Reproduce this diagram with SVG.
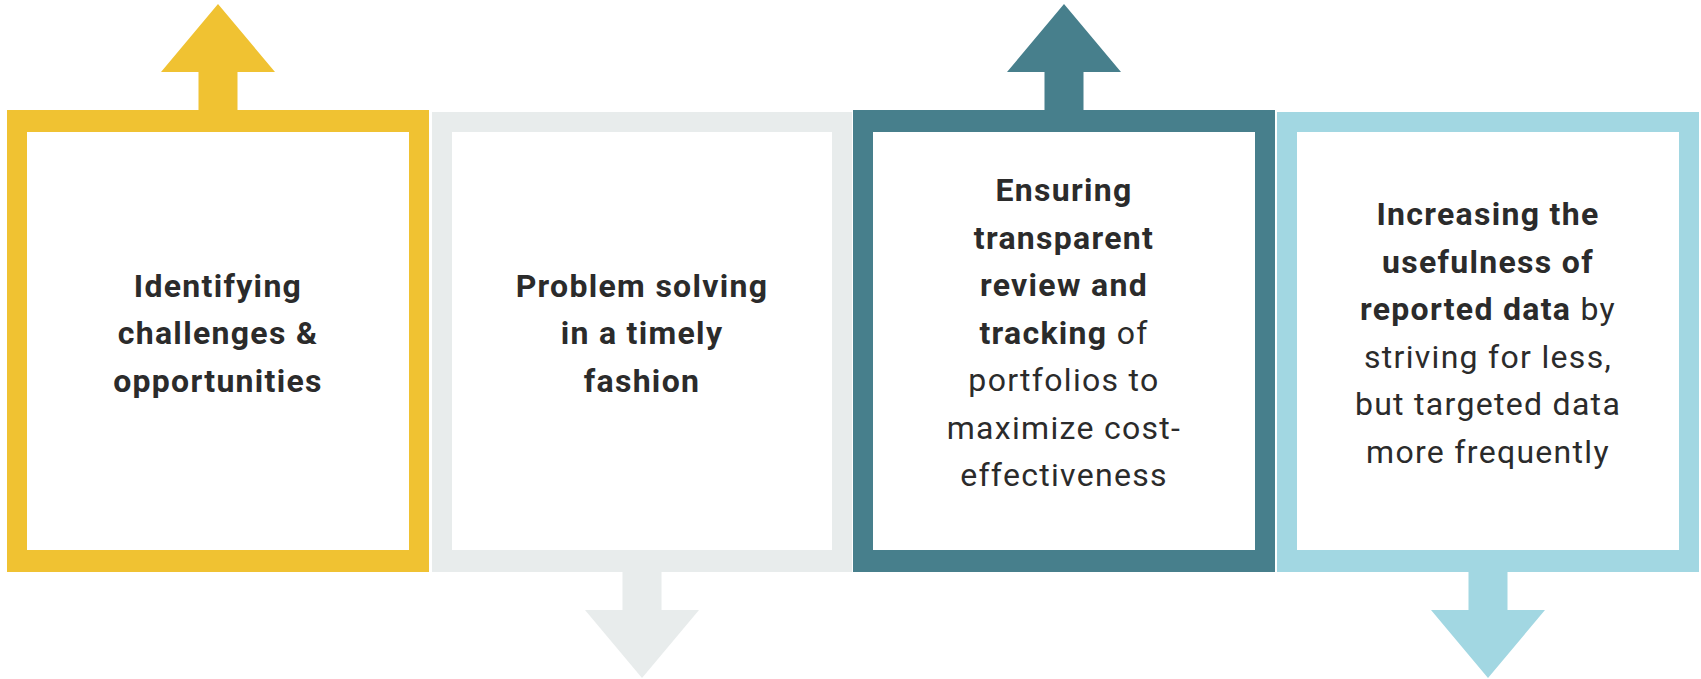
<svg xmlns="http://www.w3.org/2000/svg" width="1701" height="679" viewBox="0 0 1701 679">
<style>
.t{font-family:Roboto,"Liberation Sans",sans-serif;font-size:32px;letter-spacing:1.3px;fill:#2b2b2b;text-anchor:middle}
.b{font-weight:700}
.r{font-weight:400}
.in{fill:#ffffff}
.y{fill:#F0C232}
.g{fill:#E8ECEC}
.tl{fill:#477F8C}
.lb{fill:#A2D7E2}
</style>
<rect width="1701" height="679" fill="#ffffff"/>
<g id="connectors">
<polygon class="y" points="198.5,112 198.5,72 161,72 218,4 275,72 237.5,72 237.5,112"/>
<polygon class="tl" points="1044.5,112 1044.5,72 1007,72 1064,4 1121,72 1083.5,72 1083.5,112"/>
<polygon class="g" points="622.5,570 622.5,610 585,610 642,678 699,610 661.5,610 661.5,570"/>
<polygon class="lb" points="1468.5,570 1468.5,610 1431,610 1488,678 1545,610 1507.5,610 1507.5,570"/>
</g>
<g id="node1">
<rect class="y" x="7" y="110" width="422" height="462"/>
<rect class="in" x="27" y="132" width="382" height="418"/>
<text class="t b" x="218"><tspan x="218" y="296.5">Identifying</tspan><tspan x="218" y="344">challenges &amp;</tspan><tspan x="218" y="391.5">opportunities</tspan></text>
</g>
<g id="node2">
<rect class="g" x="432" y="112" width="420" height="460"/>
<rect class="in" x="452" y="132" width="380" height="418"/>
<text class="t b" x="642"><tspan x="642" y="296.5">Problem solving</tspan><tspan x="642" y="344">in a timely</tspan><tspan x="642" y="391.5">fashion</tspan></text>
</g>
<g id="node3">
<rect class="tl" x="853" y="110" width="422" height="462"/>
<rect class="in" x="873" y="132" width="382" height="418"/>
<text class="t b" x="1064" y="201">Ensuring</text>
<text class="t b" x="1064" y="248.5">transparent</text>
<text class="t b" x="1064" y="296">review and</text>
<text class="t" x="1064" y="343.5"><tspan class="b">tracking</tspan><tspan class="r"> of</tspan></text>
<text class="t r" x="1064" y="391">portfolios to</text>
<text class="t r" x="1064" y="438.5">maximize cost-</text>
<text class="t r" x="1064" y="486">effectiveness</text>
</g>
<g id="node4">
<rect class="lb" x="1277" y="112" width="422" height="460"/>
<rect class="in" x="1297" y="132" width="382" height="418"/>
<text class="t b" x="1488" y="225">Increasing the</text>
<text class="t b" x="1488" y="272.5">usefulness of</text>
<text class="t" x="1488" y="320"><tspan class="b">reported data</tspan><tspan class="r"> by</tspan></text>
<text class="t r" x="1488" y="367.5">striving for less,</text>
<text class="t r" x="1488" y="415">but targeted data</text>
<text class="t r" x="1488" y="462.5">more frequently</text>
</g>
</svg>
